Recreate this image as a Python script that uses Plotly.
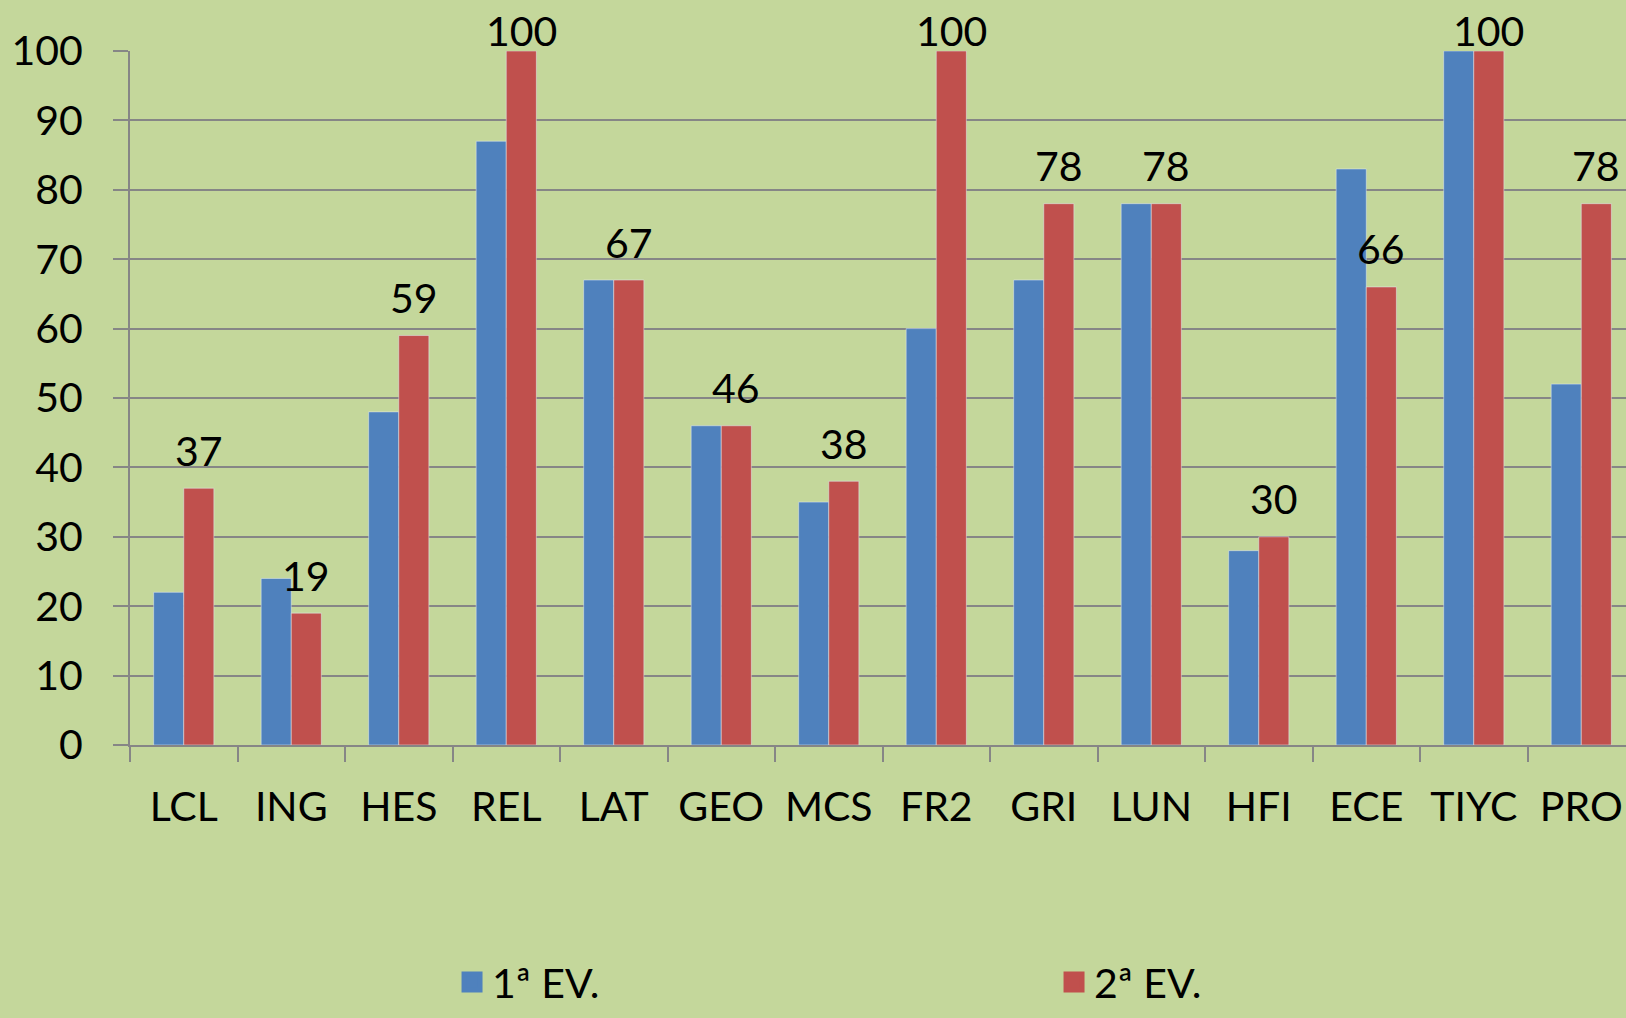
import plotly.graph_objects as go

categories = ["LCL", "ING", "HES", "REL", "LAT", "GEO", "MCS", "FR2", "GRI", "LUN", "HFI", "ECE", "TIYC", "PRO"]
ev1 = [22, 24, 48, 87, 67, 46, 35, 60, 67, 78, 28, 83, 100, 52]
ev2 = [37, 19, 59, 100, 67, 46, 38, 100, 78, 78, 30, 66, 100, 78]
y_ticks = list(range(0, 101, 10))

BLUE = "#4F81BD"
RED = "#C0504D"
BG = "#C4D79B"
GRID = "#868686"
FONT = "Lato"

fig = go.Figure()
fig.add_trace(go.Bar(x=categories, y=ev1, name="1ª EV.", marker_color=BLUE, showlegend=False))
fig.add_trace(go.Bar(x=categories, y=ev2, name="2ª EV.", marker_color=RED, showlegend=False))
# legend entries
fig.add_trace(go.Scatter(x=[None], y=[None], mode="markers", name="1ª EV.",
                         marker=dict(symbol="square", size=16, color=BLUE, line=dict(color=BLUE, width=5))))
fig.add_trace(go.Scatter(x=[None], y=[None], mode="markers", name="2ª EV.",
                         marker=dict(symbol="square", size=16, color=RED, line=dict(color=RED, width=5))))

for c, v in zip(categories, ev2):
    fig.add_annotation(x=c, y=v, text=str(v), showarrow=False, xshift=15,
                       yshift=38 if v < 100 else 21, yanchor="middle",
                       font=dict(family=FONT, size=41, color="black"))

fig.update_layout(
    width=1626, height=1018,
    paper_bgcolor=BG, plot_bgcolor=BG,
    margin=dict(l=130, r=0, t=51, b=273),
    barmode="group", bargap=0.44, bargroupgap=0,
    font=dict(family=FONT, size=41, color="black"),
    legend=dict(orientation="h", xref="container", yref="container",
                x=0.278, y=0.068, xanchor="left", yanchor="top",
                entrywidth=557, entrywidthmode="pixels",
                font=dict(family=FONT, size=41), bgcolor="rgba(0,0,0,0)"),
)
fig.update_xaxes(range=[-0.5, 13.416], showline=True, linecolor=GRID, linewidth=2,
                 ticks="outside", ticklen=15, tickwidth=2, tickcolor=GRID,
                 tickson="boundaries", showgrid=False, ticklabelstandoff=25,
                 tickfont=dict(family=FONT, size=41))
fig.update_yaxes(range=[0, 100], tickvals=y_ticks, showline=True, linecolor=GRID, linewidth=2,
                 ticks="outside", ticklen=15, tickwidth=2, tickcolor=GRID,
                 showgrid=True, gridcolor=GRID, gridwidth=2, zeroline=False,
                 ticklabelstandoff=22, tickfont=dict(family=FONT, size=41))

fig.write_html("out.html", config={"displayModeBar": False},
               post_script="document.body.style.margin='0';document.body.style.overflow='hidden';")
